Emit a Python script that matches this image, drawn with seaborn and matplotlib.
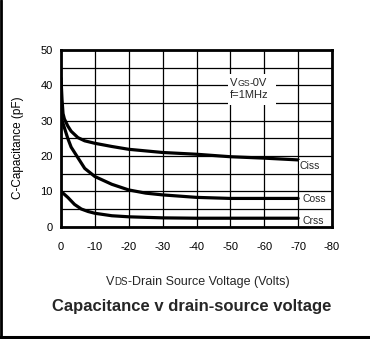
import matplotlib
matplotlib.use("Agg")
import matplotlib.pyplot as plt
import seaborn as sns
import pandas as pd
from matplotlib.patches import Rectangle
from matplotlib.lines import Line2D

# ---- data ----
ciss_v = [0, -0.3, -0.6, -1, -2, -3, -5, -7, -10, -15, -20, -30, -40, -50, -60, -70]
ciss_c = [42, 36, 32, 30.5, 28.5, 27, 25.2, 24.3, 23.6, 22.7, 21.9, 21.0, 20.5, 19.8, 19.4, 18.9]
coss_v = [0, -1, -2, -3, -5, -7, -10, -15, -20, -25, -30, -40, -50, -60, -70]
coss_c = [31, 28, 25, 22.5, 19.5, 16.5, 14.2, 12.0, 10.4, 9.5, 9.0, 8.3, 8.0, 8.0, 8.0]
crss_v = [0, -2, -4, -6, -8, -10, -15, -20, -30, -40, -50, -60, -70]
crss_c = [10, 8.3, 6.3, 5.0, 4.3, 3.8, 3.1, 2.8, 2.5, 2.4, 2.4, 2.4, 2.4]
series_names = ["Ciss", "Coss", "Crss"]
x_ticks = [0, -10, -20, -30, -40, -50, -60, -70, -80]
y_ticks = [0, 10, 20, 30, 40, 50]

df = pd.concat([
    pd.DataFrame({"V": ciss_v, "C": ciss_c, "s": "Ciss"}),
    pd.DataFrame({"V": coss_v, "C": coss_c, "s": "Coss"}),
    pd.DataFrame({"V": crss_v, "C": crss_c, "s": "Crss"}),
])

sns.set_theme(style="white")
plt.rcParams["font.family"] = ["Liberation Sans", "DejaVu Sans"]

fig = plt.figure(figsize=(3.70, 3.39), dpi=100)
ax = fig.add_axes([61/370, 1 - 226.7/339, 271/370, 176.7/339])

sns.lineplot(data=df, x="V", y="C", hue="s", palette=["black"] * 3,
             linewidth=2.3, legend=False, ax=ax, sort=False, estimator=None)

ax.set_xlim(0, -80)
ax.set_ylim(0, 50)
ax.set_xticks(x_ticks)
ax.set_xticklabels([str(t) for t in x_ticks])
ax.set_yticks(y_ticks)
ax.set_yticks([5, 15, 25, 35, 45], minor=True)
ax.grid(True, which="both", axis="y", color="black", linewidth=0.9)
ax.grid(True, which="major", axis="x", color="black", linewidth=0.9)
ax.set_axisbelow(True)
ax.tick_params(axis="both", which="both", length=0, labelsize=8, colors="black")
ax.tick_params(axis="x", pad=11)
ax.tick_params(axis="y", pad=6)
for sp in ax.spines.values():
    sp.set_visible(True)
    sp.set_color("black")
    sp.set_linewidth(2)

ax.set_xlabel("")
ax.set_ylabel("C-Capacitance (pF)", fontsize=8.5, color="black")
ax.yaxis.set_label_coords(-0.135, 0.448)

# annotation box (Vgs / f)
ax.add_patch(Rectangle((-49.2, 34.4), -14.4, 8.8, facecolor="white", edgecolor="none", zorder=2))
tv = ax.text(-49.8, 40.6, "V", fontsize=8, ha="left", va="center", zorder=3)
tg = ax.annotate("GS", xy=(1, 0.45), xycoords=tv, fontsize=6.3, ha="left", va="center", zorder=3)
ax.annotate("-0V", xy=(1, 0.5), xycoords=tg, xytext=(0, 0.3), textcoords="offset points",
            fontsize=8, ha="left", va="center", zorder=3)
ax.text(-55.4, 37.3, "f=1MHz", fontsize=8, ha="center", va="center", zorder=3)

# series labels
for name, y, xx in zip(series_names, [17.3, 7.9, 1.7], [-70.4, -71.2, -71.4]):
    ax.text(xx, y, name, fontsize=7.5, ha="left", va="center",
            zorder=3, bbox=dict(facecolor="white", edgecolor="none", pad=0.5))

# x axis label with small caps subscript
ylab = 1 - 281.7/339
t1 = fig.text(106/370, ylab, "V", fontsize=9, ha="left", va="center")
tds = ax.annotate("DS", xy=(1, 0.45), xycoords=t1, fontsize=7, ha="left", va="center")
tds.set_annotation_clip(False)
trest = ax.annotate("-Drain Source Voltage (Volts)", xy=(1, 0.55), xycoords=tds,
                    fontsize=9, ha="left", va="center")
trest.set_annotation_clip(False)

fig.text(191.5/370, 1 - 306.7/339, "Capacitance v drain-source voltage", fontsize=12,
         fontweight="bold", ha="center", va="center")

# outer frame: left and bottom lines
fig.add_artist(Line2D([0.8/370, 0.8/370], [0, 1], color="black", linewidth=2, transform=fig.transFigure))
fig.add_artist(Line2D([0, 1], [2/339, 2/339], color="black", linewidth=2.2, transform=fig.transFigure))

fig.savefig("out.png", dpi=100)
